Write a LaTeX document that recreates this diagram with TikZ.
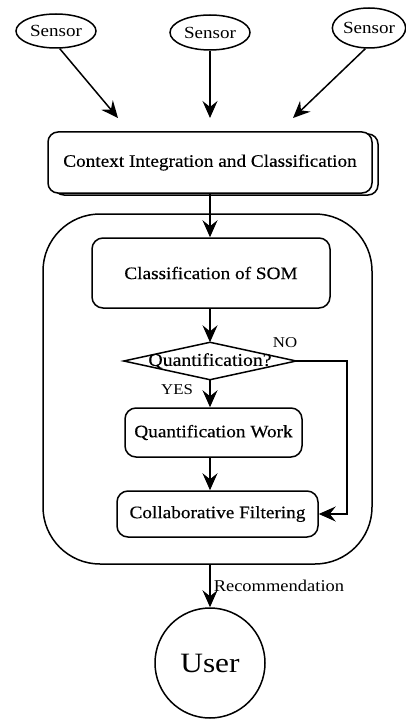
\documentclass[tikz,border=0pt]{standalone}
\usepackage{fontspec}
\setmainfont{Liberation Serif}[FakeStretch=1.12]
\newfontfamily\heavyserif{Liberation Serif}[FakeStretch=1.1,FakeBold=0.4]
\usetikzlibrary{arrows.meta,shadows,shapes.geometric}

\tikzset{
  every picture/.style={x=1pt,y=-1pt},
  arr/.style={line width=1.5pt,-{Stealth[length=17pt,width=15pt,inset=6pt]}},
  sensor/.style={draw,ellipse,line width=1.5pt,inner sep=0pt,
    font=\fontsize{17}{19}\selectfont},
  stepbox/.style={draw,rectangle,rounded corners=11pt,line width=1.5pt,fill=white,
    inner sep=0pt,font=\heavyserif\fontsize{17.5}{20}\selectfont},
  lbl/.style={inner sep=0pt,font=\fontsize{15}{17}\selectfont},
}

\begin{document}
\begin{tikzpicture}
\useasboundingbox (0,0) rectangle (406,722);

% sensors
\node[sensor,minimum width=80pt,minimum height=34pt] (s1) at (56,31) {Sensor};
\node[sensor,minimum width=80pt,minimum height=35pt] (s2) at (210,32.5) {Sensor};
\node[sensor,minimum width=72pt,minimum height=40pt] (s3) at (369,28) {Sensor};

\coordinate (e1) at (118,118);
\coordinate (e2) at (210,118);
\coordinate (e3) at (293,118);

\draw[arr] (s1.-78) -- (e1);
\draw[arr] (s2.south) -- (e2);
\draw[arr] (s3.-100) -- (e3);

% context integration box with copy shadow
\node[stepbox,rounded corners=10pt,minimum width=324pt,minimum height=61pt,
  copy shadow={shadow xshift=6pt,shadow yshift=-2pt}]
  (ctx) at (210,162.5) {Context Integration and Classification};

% processing container
\node[draw,line width=1.5pt,rectangle,rounded corners=57pt,inner sep=0pt,
  minimum width=329pt,minimum height=350pt] (box) at (207.5,389) {};

\node[stepbox,minimum width=238pt,minimum height=70pt] (som) at (211,273) {Classification of SOM};

% decision: diamond drawn through the anchors of a text node
\node[inner sep=0pt,minimum width=172pt,minimum height=37pt,
  font=\heavyserif\fontsize{18}{20}\selectfont] (q) at (210,361) {Quantification?};
\draw[line width=1.5pt] (q.north) -- (q.east) -- (q.south) -- (q.west) -- cycle;

\node[stepbox,minimum width=177pt,minimum height=49pt] (qw) at (213.5,432.5) {Quantification Work};
\node[stepbox,minimum width=201pt,minimum height=46pt] (cf) at (217.5,514) {Collaborative Filtering};

\node[lbl] (no) at (285,343) {NO};
\node[lbl] (yes) at (177,390) {YES};

% user
\node[draw,circle,line width=1.5pt,minimum size=110pt,inner sep=0pt,
  font=\fontsize{28}{32}\selectfont] (user) at (210,663) {User};

% connectors
\coordinate (nr) at (347,361);
\draw[arr] (ctx.south) -- (ctx.south |- som.north);
\draw[arr] (som.south -| q.north) -- (q.north);
\draw[arr] (q.south) -- (q.south |- qw.north);
\draw[arr] (qw.south -| q.south) -- (q.south |- cf.north);
\draw[arr] (q.east) -- (nr) |- (cf.east);
\draw[arr] (box.south -| user.north) -- (user.north)
  node[midway,right=3pt,lbl,font=\fontsize{16.5}{18}\selectfont] {Recommendation};
\end{tikzpicture}
\end{document}
